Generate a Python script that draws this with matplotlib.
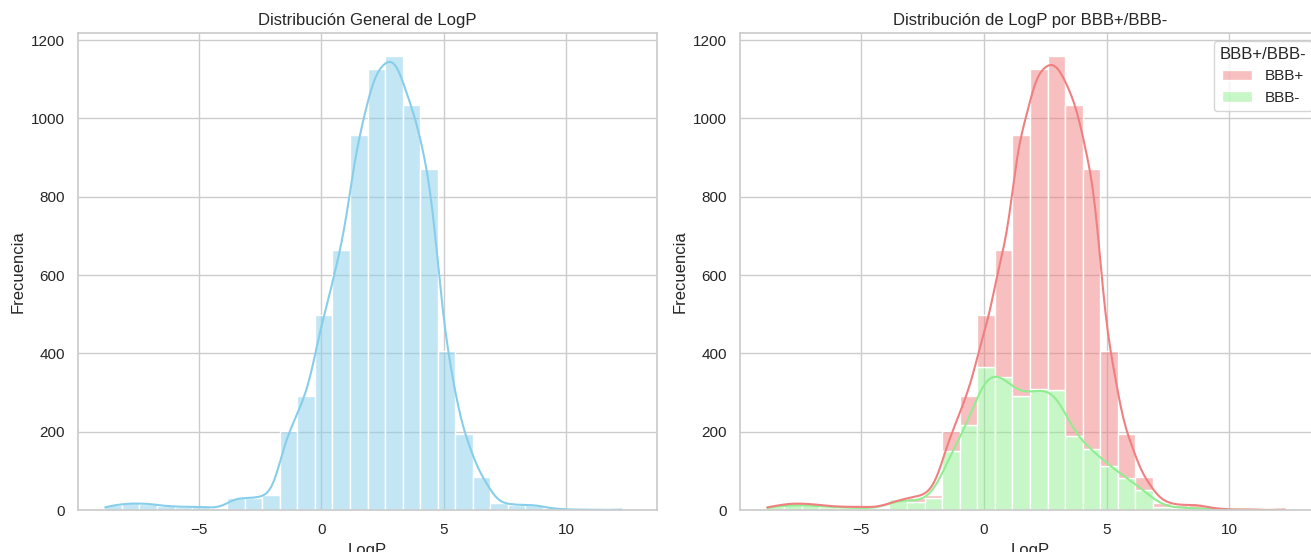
import numpy as np
import pandas as pd
import matplotlib
matplotlib.use("Agg")
import matplotlib.pyplot as plt
import seaborn as sns

# histogram: 30 bins over the LogP range
logp_min = -8.87
logp_max = 12.63
n_bins = 30

# counts per bin, BBB+ and BBB- (stacked they give the overall histogram)
bbb_pos = [2, 5, 4, 2, 2, 3, 1, 1, 10, 8, 52, 72, 133, 323, 668,
           816, 853, 844, 715, 293, 111, 35, 10, 7, 9, 2, 0, 1, 0, 1]
bbb_neg = [10, 12, 12, 8, 6, 5, 4, 29, 21, 30, 150, 218, 364, 340, 290,
           310, 307, 190, 155, 113, 82, 50, 8, 6, 4, 2, 1, 0, 0, 0]

classes = ['BBB+', 'BBB-']
colors = {'BBB+': 'lightcoral', 'BBB-': 'lightgreen'}


def sample_from_counts(counts):
    """Spread each bin's count evenly inside the bin (no randomness)."""
    edges = np.linspace(logp_min, logp_max, n_bins + 1)
    width = edges[1] - edges[0]
    vals = []
    for left, c in zip(edges[:-1], counts):
        if c > 0:
            vals.append(left + (np.arange(c) + 0.5) / c * width)
    return np.concatenate(vals)


df = pd.DataFrame({
    'LogP': np.concatenate([sample_from_counts(bbb_pos), sample_from_counts(bbb_neg)]),
    'BBB+/BBB-': ['BBB+'] * sum(bbb_pos) + ['BBB-'] * sum(bbb_neg),
})

sns.set_theme(style='whitegrid')
plt.rcParams['font.family'] = ['Liberation Sans', 'DejaVu Sans']

W, H = 1311, 552
fig = plt.figure(figsize=(W / 100, H / 100), dpi=100)
ax1 = fig.add_axes([78 / W, 42 / H, 579 / W, 477 / H])
ax2 = fig.add_axes([740 / W, 42 / H, 580 / W, 477 / H])

kde_opts = {'bw_adjust': 0.9}

sns.histplot(data=df, x='LogP', bins=n_bins, binrange=(logp_min, logp_max),
             kde=True, kde_kws=kde_opts, color='skyblue', ax=ax1)
ax1.set_title('Distribución General de LogP')
ax1.set_xlabel('LogP')
ax1.set_ylabel('Frecuencia')

sns.histplot(data=df, x='LogP', hue='BBB+/BBB-', hue_order=classes,
             bins=n_bins, binrange=(logp_min, logp_max), kde=True,
             kde_kws=kde_opts, multiple='stack', palette=colors, ax=ax2)
ax2.set_title('Distribución de LogP por BBB+/BBB-')
ax2.set_xlabel('LogP')
ax2.set_ylabel('Frecuencia')
sns.move_legend(ax2, 'upper right')

fig.savefig('out.png', dpi=100)
